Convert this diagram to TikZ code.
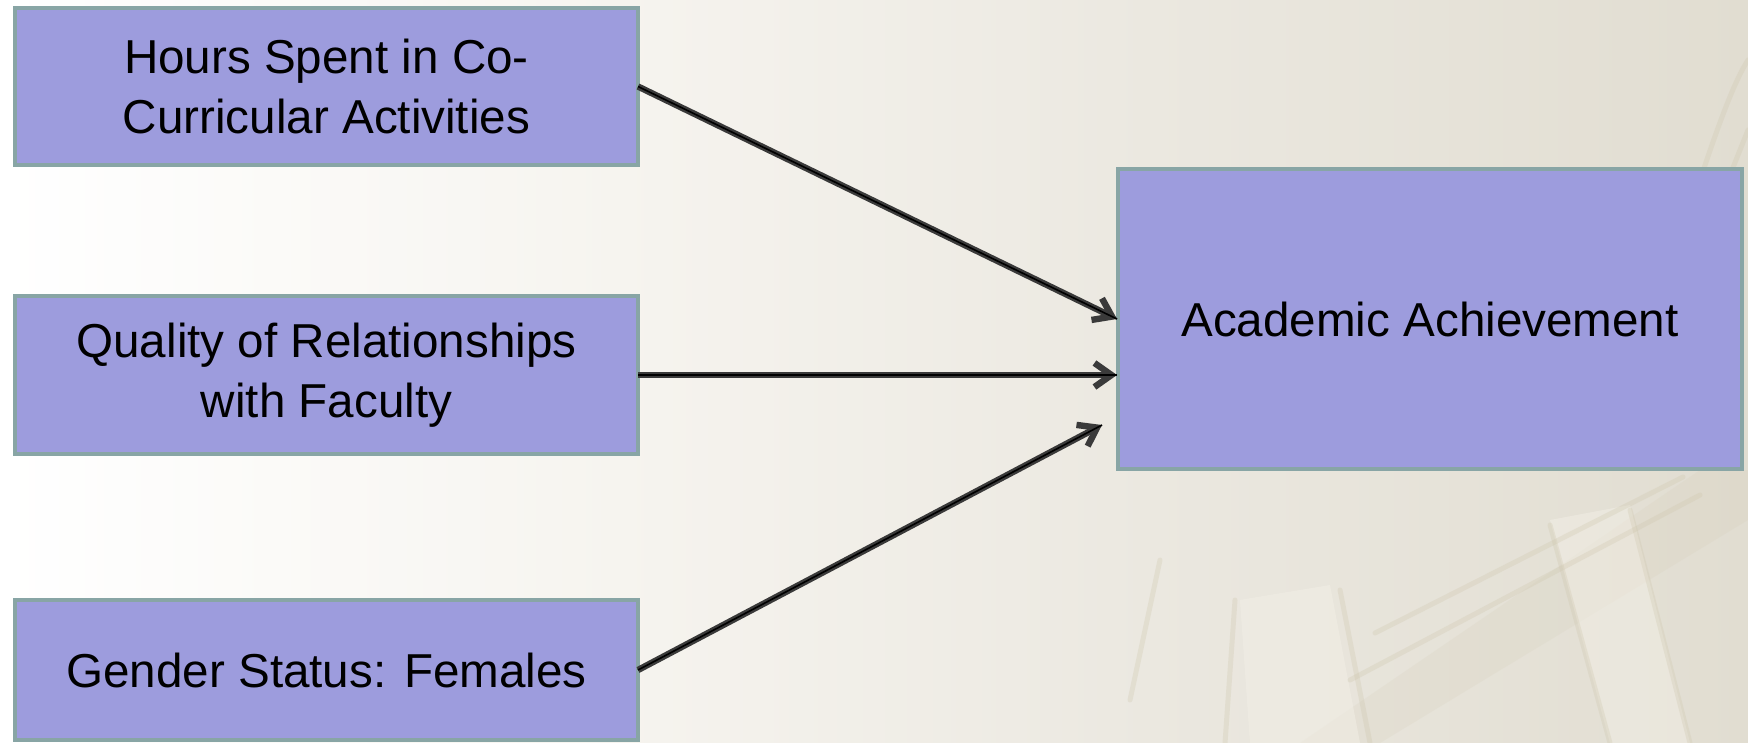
\documentclass[tikz,border=0pt]{standalone}
\usepackage{fontspec}
\setmainfont{Liberation Sans}
\usetikzlibrary{arrows.meta}
\definecolor{boxfill}{HTML}{9D9CDD}
\definecolor{boxline}{HTML}{88A5A5}
\definecolor{arrgray}{HTML}{3A3A3A}
\definecolor{bgA}{HTML}{FFFFFF}
\definecolor{bgB}{HTML}{F6F4EF}
\definecolor{bgC}{HTML}{EBE8E0}
\definecolor{bgD}{HTML}{E1DDD1}
\definecolor{stone}{HTML}{CFC7AE}
\definecolor{stonelight}{HTML}{F4F1E8}
\tikzset{
  box/.style={draw=boxline, line width=2pt, fill=boxfill, align=center,
    inner sep=0pt, outer sep=0pt, text=black,
    font=\fontsize{23.8}{30}\selectfont},
  arr/.style={draw=arrgray, line width=3.2pt,
    -{Straight Barb[length=8.5pt,width=12pt]},
    postaction={draw=black, line width=0.8pt, -}},
  faint/.style={draw=stone, line width=2.5pt, opacity=0.3, line cap=round},
  faintfill/.style={fill=stone, opacity=0.15, draw=none}
}
\begin{document}
\begin{tikzpicture}[x=0.5pt,y=-0.5pt]
\useasboundingbox (0,0) rectangle (1748,743);
% background
\shade[left color=bgA, right color=bgB] (0,0) rectangle (620,743);
\shade[left color=bgB, right color=bgC] (619,0) rectangle (1150,743);
\shade[left color=bgC, right color=bgD] (1149,0) rectangle (1748,743);
% faint building in lower right
\fill[faintfill] (1300,743) -- (1700,470) -- (1748,470) -- (1748,520) -- (1380,743) -- cycle;
\fill[stonelight, opacity=0.45] (1240,600) -- (1330,585) -- (1360,743) -- (1250,743) -- cycle;
\fill[stonelight, opacity=0.45] (1550,520) -- (1630,505) -- (1690,743) -- (1610,743) -- cycle;
\draw[faint] (1375,633) -- (1683,477);
\draw[faint] (1350,680) -- (1700,495);
\draw[faint] (1235,600) -- (1225,743);
\draw[faint] (1340,590) -- (1370,743);
\draw[faint] (1550,525) -- (1610,743);
\draw[faint] (1630,510) -- (1690,743);
\draw[faint] (1160,560) -- (1130,700);
\draw[faint] (1700,180) .. controls (1720,120) and (1735,80) .. (1748,60);
\draw[faint] (1720,200) -- (1748,130);
% boxes
\node[box, minimum width=311.5pt, minimum height=78.5pt] (hours) at (326.5,86.5)
  {Hours Spent in Co-\\Curricular Activities};
\node[box, minimum width=311.5pt, minimum height=79pt] (qual) at (326.5,375)
  {Quality of Relationships\\with Faculty};
\node[box, minimum width=311.5pt, minimum height=70pt] (gend) at (326.5,670)
  {Gender Status: Females};
\node[box, minimum width=312pt, minimum height=150pt] (ach) at (1430,319)
  {Academic Achievement};
% arrow end points
\coordinate (t1) at (1117,319);
\coordinate (t2) at (1117,375);
\coordinate (t3) at (1102,425);
% connectors
\draw[arr] (hours.east) -- (t1);
\draw[arr] (qual.east) -- (t2);
\draw[arr] (gend.east) -- (t3);
\end{tikzpicture}
\end{document}
